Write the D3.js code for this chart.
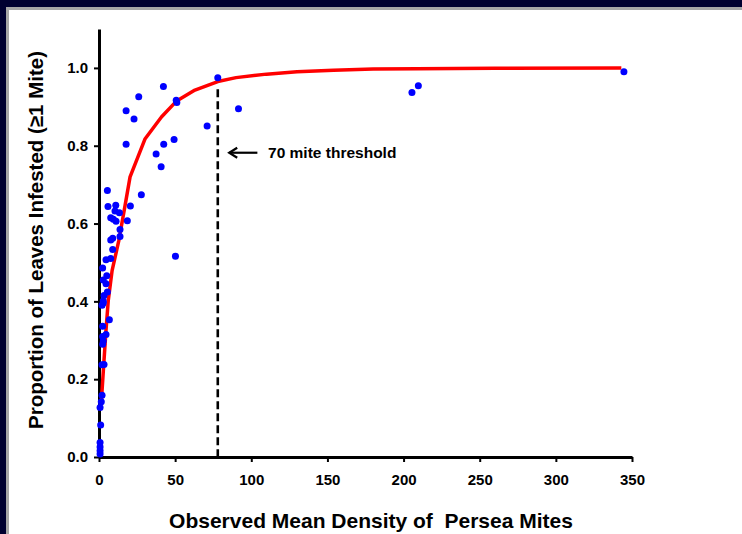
<!DOCTYPE html>
<html>
<head>
<meta charset="utf-8">
<script src="https://cdn.jsdelivr.net/npm/d3@7"></script>
<style>
  body { margin: 0; background: #000030; }
  svg { display: block; font-family: "Liberation Sans", Arial, sans-serif; font-weight: bold; }
</style>
</head>
<body>
<div id="chart"></div>
<script>
// observed points (mean density, proportion infested)
const obsX = [78, 42.3, 26.1, 50.7, 51.1, 17.8, 23, 71, 17.8, 42.5, 49.3, 37.5, 40.8, 91.6,
  205.5, 209.7, 344.7, 50.2, 27.8,
  5.5, 5.9, 11, 20.6, 10.5, 13.4, 7.7, 9.4, 11.2, 18.6, 13.8, 13.8, 7.7, 9, 9, 4.6, 7.7,
  2.4, 5.1, 2.8, 4.6, 5.5, 3.3, 2.8, 2,
  2.8, 6.8, 2.4, 4.6, 2.4, 2.8, 2.4, 3.3, 2, 2, 1.5, 0.7, 1.1, 0.7, 0.7, 0.7, 0.7];
const obsY = [0.975, 0.952, 0.926, 0.917, 0.911, 0.89, 0.869, 0.851, 0.804, 0.804, 0.816, 0.779, 0.746, 0.895,
  0.937, 0.954, 0.99, 0.516, 0.674,
  0.685, 0.644, 0.647, 0.645, 0.632, 0.628, 0.615, 0.611, 0.606, 0.607, 0.585, 0.567, 0.558, 0.562, 0.533, 0.507, 0.51,
  0.486, 0.466, 0.455, 0.445, 0.424, 0.415, 0.401, 0.39,
  0.396, 0.353, 0.336, 0.315, 0.31, 0.298, 0.29, 0.238, 0.237, 0.159, 0.142, 0.127, 0.082, 0.037, 0.026, 0.016, 0.008];

// fitted curve
const fitX = [1.6, 3.3, 4.6, 6.1, 8.6, 13, 17.1, 20.4, 30.3, 41, 50.7, 63, 78, 90, 110, 130, 154, 180, 209, 260, 343];
const fitY = [0.146, 0.249, 0.326, 0.403, 0.479, 0.556, 0.646, 0.72, 0.818, 0.874, 0.914, 0.943, 0.965, 0.975, 0.984, 0.99, 0.994, 0.997, 0.998, 0.999, 1.0];

const xTicks = [0, 50, 100, 150, 200, 250, 300, 350];
const yTicks = [0, 0.2, 0.4, 0.6, 0.8, 1.0];
const threshold = 78;

const W = 742, H = 534;
const svg = d3.select("#chart").append("svg").attr("width", W).attr("height", H);

// slide background
svg.append("rect").attr("width", W).attr("height", H).attr("fill", "#000030");
svg.append("rect").attr("x", 6).attr("y", 7).attr("width", W).attr("height", H).attr("fill", "#a6a6a6");
svg.append("rect").attr("x", 9).attr("y", 10).attr("width", W).attr("height", H).attr("fill", "#ffffff");

const x = d3.scaleLinear().domain([0, 350]).range([99, 632]);
const y = d3.scaleLinear().domain([0, 1.1]).range([457, 29]);

// axes
const xAxis = svg.append("g").attr("transform", "translate(0,457)")
  .call(d3.axisBottom(x).tickValues(xTicks).tickSize(5).tickSizeOuter(0).tickPadding(12));
const yAxis = svg.append("g").attr("transform", "translate(99,0)")
  .call(d3.axisLeft(y).tickValues(yTicks).tickFormat(d3.format(".1f")).tickSize(5).tickSizeOuter(0).tickPadding(6));

[xAxis, yAxis].forEach((g) => {
  g.select(".domain").attr("stroke", "#000").attr("stroke-width", 3);
  g.selectAll(".tick line").attr("stroke", "#000").attr("stroke-width", 2);
  g.selectAll(".tick text").attr("fill", "#000")
    .style("font-size", "15px").style("font-weight", "bold")
    .style("font-family", "Liberation Sans, Arial, sans-serif");
});

// threshold line
svg.append("line")
  .attr("x1", x(threshold)).attr("x2", x(threshold))
  .attr("y1", y(0.945)).attr("y2", y(0))
  .attr("stroke", "#000").attr("stroke-width", 2.6)
  .attr("stroke-dasharray", "8,4");

// fitted curve
const pts = fitX.map((d, i) => [d, fitY[i]]);
svg.append("path")
  .datum(pts)
  .attr("fill", "none")
  .attr("stroke", "#ff0000")
  .attr("stroke-width", 3.5)
  .attr("stroke-linejoin", "round")
  .attr("d", d3.line().x((d) => x(d[0])).y((d) => y(d[1])));

// observed points
svg.append("g").selectAll("circle")
  .data(obsX.map((d, i) => [d, obsY[i]]))
  .join("circle")
  .attr("cx", (d) => x(d[0]))
  .attr("cy", (d) => y(d[1]))
  .attr("r", 3.5)
  .attr("fill", "#0000ff");

// arrow + label
const arrY = y(0.782);
svg.append("line")
  .attr("x1", x(104)).attr("x2", x(85.5))
  .attr("y1", arrY).attr("y2", arrY)
  .attr("stroke", "#000").attr("stroke-width", 2.2);
svg.append("path")
  .attr("d", `M${x(85.5) + 8},${arrY - 5} L${x(85.5)},${arrY} L${x(85.5) + 8},${arrY + 5}`)
  .attr("fill", "none").attr("stroke", "#000").attr("stroke-width", 2.2);
svg.append("text")
  .attr("x", x(111)).attr("y", arrY + 5.5)
  .style("font-size", "15.5px")
  .text("70 mite threshold");

// axis titles
svg.append("text")
  .attr("x", 371).attr("y", 528)
  .attr("text-anchor", "middle")
  .style("font-size", "21px")
  .style("white-space", "pre")
  .text("Observed Mean Density of  Persea Mites");

svg.append("text")
  .attr("transform", "translate(43,240) rotate(-90)")
  .attr("text-anchor", "middle")
  .style("font-size", "20.5px")
  .text("Proportion of Leaves Infested (≥1 Mite)");
</script>
</body>
</html>
